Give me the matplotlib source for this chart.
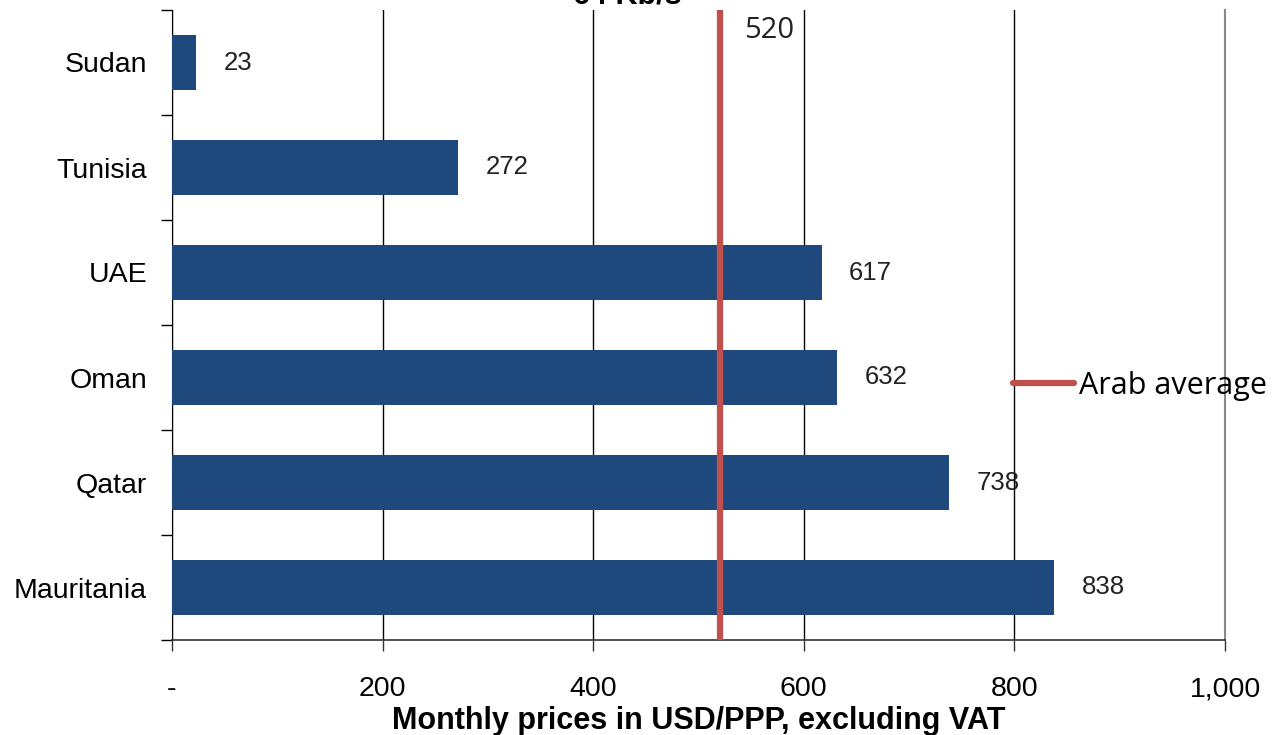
import matplotlib.pyplot as plt
from matplotlib.ticker import FuncFormatter
from matplotlib.lines import Line2D

plt.rcParams["font.family"] = ["Liberation Sans", "DejaVu Sans"]

countries = ["Mauritania", "Qatar", "Oman", "UAE", "Tunisia", "Sudan"]
prices = [838, 738, 632, 617, 272, 23]
arab_avg = 520

bar_color = "#1F497D"
avg_color = "#C0504D"

fig = plt.figure(figsize=(12.78, 7.35), dpi=100)
ax = fig.add_axes([172 / 1278, 1 - 640 / 735, 1053 / 1278, 630 / 735])

ypos = list(range(len(countries)))
ax.barh(ypos, prices, height=0.52, color=bar_color, zorder=3)

for y, v in zip(ypos, prices):
    ax.text(v + 26, y, str(v), va="center", ha="left", fontsize=18.5,
            color="#222222", zorder=4)

ax.axvline(arab_avg, color=avg_color, lw=4.5, zorder=5)
ax.text(arab_avg + 23, 5.3, str(arab_avg), fontsize=21, color="#222222",
        va="center", ha="left", family="Open Sans")

ax.set_xlim(0, 1000)
ax.set_ylim(-0.5, 5.5)
ax.set_xticks([0, 200, 400, 600, 800, 1000])
ax.xaxis.set_major_formatter(FuncFormatter(lambda v, p: "-" if v == 0 else f"{int(v):,}"))
ax.grid(axis="x", color="black", lw=1, zorder=0)

ax.set_yticks(ypos)
ax.set_yticklabels(countries, fontsize=20.5)
ax.set_yticks([i - 0.5 for i in range(len(countries) + 1)], minor=True)
ax.tick_params(axis="y", which="major", length=0, pad=18)
ax.tick_params(axis="y", which="minor", length=8, width=1)
ax.tick_params(axis="x", length=8, width=1, labelsize=20.5, pad=18, color="#333333")

ax.spines["top"].set_visible(False)
ax.spines["right"].set_color("#888888")
ax.spines["right"].set_linewidth(1.5)
ax.spines["left"].set_color("black")
ax.spines["bottom"].set_color("#333333")
ax.spines["bottom"].set_linewidth(1.2)

ax.set_xlabel("Monthly prices in USD/PPP, excluding VAT", fontsize=22,
              fontweight="bold", labelpad=3)

handle = Line2D([], [], color=avg_color, lw=4.5, solid_capstyle="round")
ax.legend([handle], ["Arab average"], loc="center left",
          bbox_to_anchor=((1013 - 172) / 1053, (640 - 386) / 630),
          frameon=False, prop={"family": "Open Sans", "size": 22},
          handlelength=2.0, handletextpad=0.15, borderpad=0, borderaxespad=0)

fig.text(627 / 1278, 1 - 4 / 735, "64 Kb/s", ha="center", va="baseline",
         fontsize=22, fontweight="bold")

fig.savefig("out.png", dpi=100)
